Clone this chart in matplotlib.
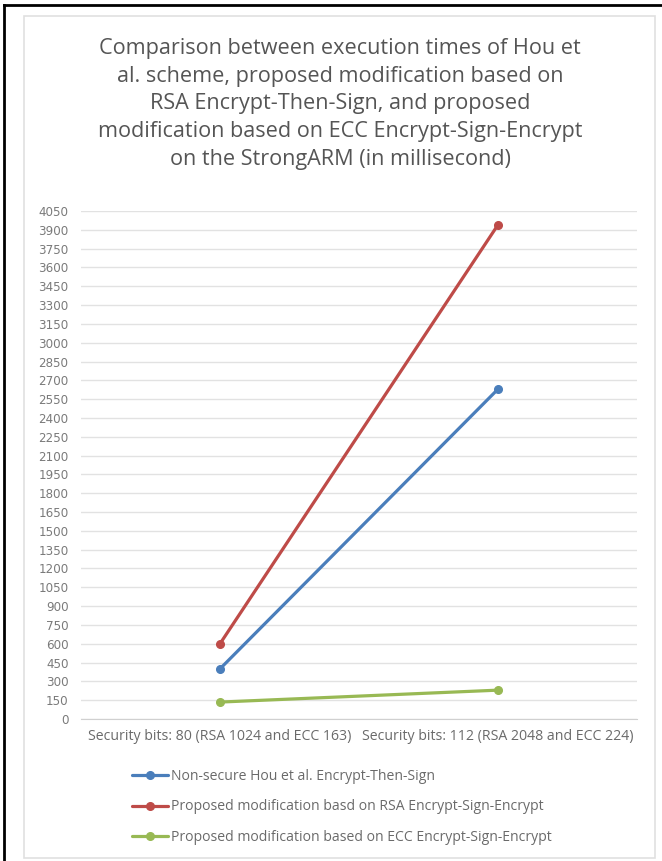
import matplotlib.pyplot as plt
from matplotlib.lines import Line2D
from matplotlib.patches import Rectangle

plt.rcParams['font.family'] = ['Open Sans', 'DejaVu Sans']

categories = ["Security bits: 80 (RSA 1024 and ECC 163)",
              "Security bits: 112 (RSA 2048 and ECC 224)"]
hou_ets = [400, 2630]
rsa_ese = [600, 3940]
ecc_ese = [135, 230]
series_names = ["Non-secure Hou et al. Encrypt-Then-Sign",
                "Proposed modification basd on RSA Encrypt-Sign-Encrypt",
                "Proposed modification based on ECC Encrypt-Sign-Encrypt"]
colors = ["#4a7ebb", "#be4b48", "#98b954"]
y_ticks = list(range(0, 4051, 150))

title = ("Comparison between execution times of Hou et\n"
         "al. scheme, proposed modification based on\n"
         "RSA Encrypt-Then-Sign, and proposed\n"
         "modification based on ECC Encrypt-Sign-Encrypt\n"
         "on the StrongARM (in millisecond)")

W, H = 662, 861
fig = plt.figure(figsize=(W / 100, H / 100), dpi=100)

# outer frame (left and top only) and the light chart-area box
fig.add_artist(Line2D([4 / W, 4 / W], [0, 1 - 5 / H], color="black", lw=2))
fig.add_artist(Line2D([4 / W, 1], [1 - 5 / H, 1 - 5 / H], color="black", lw=2))
fig.add_artist(Rectangle((24 / W, 1 - 858 / H), (655 - 24) / W, (858 - 16) / H,
                         transform=fig.transFigure, fill=False,
                         edgecolor="#e0e0e0", lw=1.2))

ax = fig.add_axes([81 / W, 1 - 719 / H, (637 - 81) / W, (719 - 211) / H])
x = [0, 1]
for vals, name, c in zip([hou_ets, rsa_ese, ecc_ese], series_names, colors):
    ax.plot(x, vals, color=c, lw=2.3, marker="o", markersize=5.5, label=name,
            solid_capstyle="round")

ax.set_xlim(-0.5, 1.5)
ax.set_ylim(0, 4050)
ax.set_yticks(y_ticks)
ax.set_yticklabels([str(v) for v in y_ticks], fontsize=8.6, color="#7a7a7a",
                   family="DejaVu Sans")
ax.set_xticks(x)
ax.set_xticklabels(categories, fontsize=10.2, color="#6a6a6a")
ax.tick_params(axis="both", length=0)
ax.tick_params(axis="y", pad=9)
ax.tick_params(axis="x", pad=7)
ax.grid(axis="y", color="#e2e2e2", lw=1)
ax.set_axisbelow(True)
for s in ["top", "right", "left"]:
    ax.spines[s].set_visible(False)
ax.spines["bottom"].set_color("#d0d0d0")

fig.text(340 / W, 1 - 104 / H, title, ha="center", va="center",
         fontsize=15.6, color="#555555", linespacing=1.42)

fig.legend(loc="upper left", bbox_to_anchor=(132 / W, 1 - 769 / H),
           frameon=False, fontsize=10.1, labelcolor="#6a6a6a",
           handlelength=2.6, handletextpad=0.15, labelspacing=1.1,
           borderaxespad=0, borderpad=0)

fig.savefig("out.png", dpi=100)
